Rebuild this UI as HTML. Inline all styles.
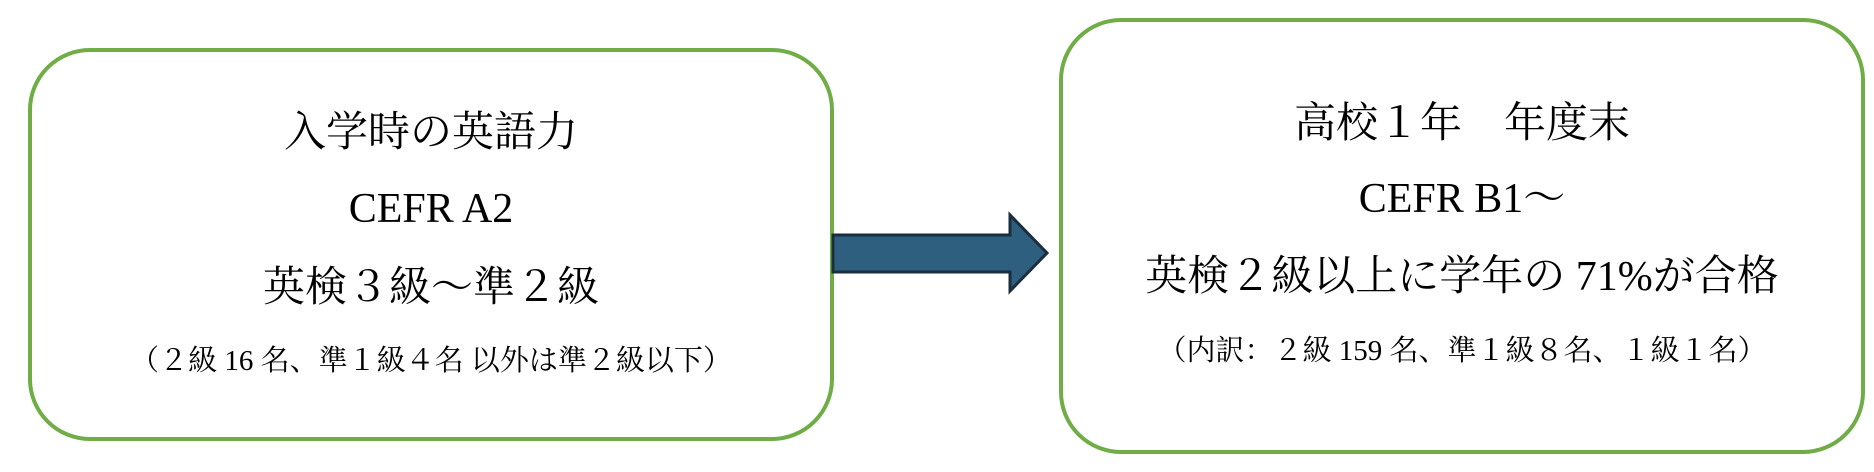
<!DOCTYPE html>
<html><head><meta charset="utf-8"><style>
body{margin:0;width:1874px;height:472px;background:#fff;position:relative;overflow:hidden;font-family:"Liberation Serif","Noto Serif CJK SC",serif;color:#000}
.box{position:absolute;border:4px solid #70ad47;border-radius:62px;box-sizing:border-box;background:#fff}
.t{position:absolute;left:0;right:0;text-align:center;white-space:nowrap;line-height:1}
.b{font-size:42px}.s{font-size:29px}
</style></head><body>
<div class="box" style="left:28px;top:48px;width:806px;height:393px"></div>
<div class="box" style="left:1059px;top:18px;width:806px;height:436px"></div>
<svg style="position:absolute;left:0;top:0" width="1874" height="472">
<polygon points="833,235 1010,235 1010,215 1047,253 1010,291 1010,272 833,272" fill="#2e5f7e" stroke="#1a2e3d" stroke-width="3"/>
</svg>
<div style="position:absolute;left:28px;width:806px;top:0">
<div class="t b" style="top:112px">入学時の英語力</div>
<div class="t b" style="top:188px">CEFR A2</div>
<div class="t b" style="top:267px">英検３級～準２級</div>
<div class="t s" style="top:347px">（２級 16 名、準１級４名  以外は準２級以下）</div>
</div>
<div style="position:absolute;left:1059px;width:806px;top:0">
<div class="t b" style="top:103px">高校１年　年度末</div>
<div class="t b" style="top:178px">CEFR B1～</div>
<div class="t b" style="top:256px">英検２級以上に学年の 71%が合格</div>
<div class="t s" style="top:337px">（内訳：２級 159 名、準１級８名、１級１名）</div>
</div>
</body></html>
